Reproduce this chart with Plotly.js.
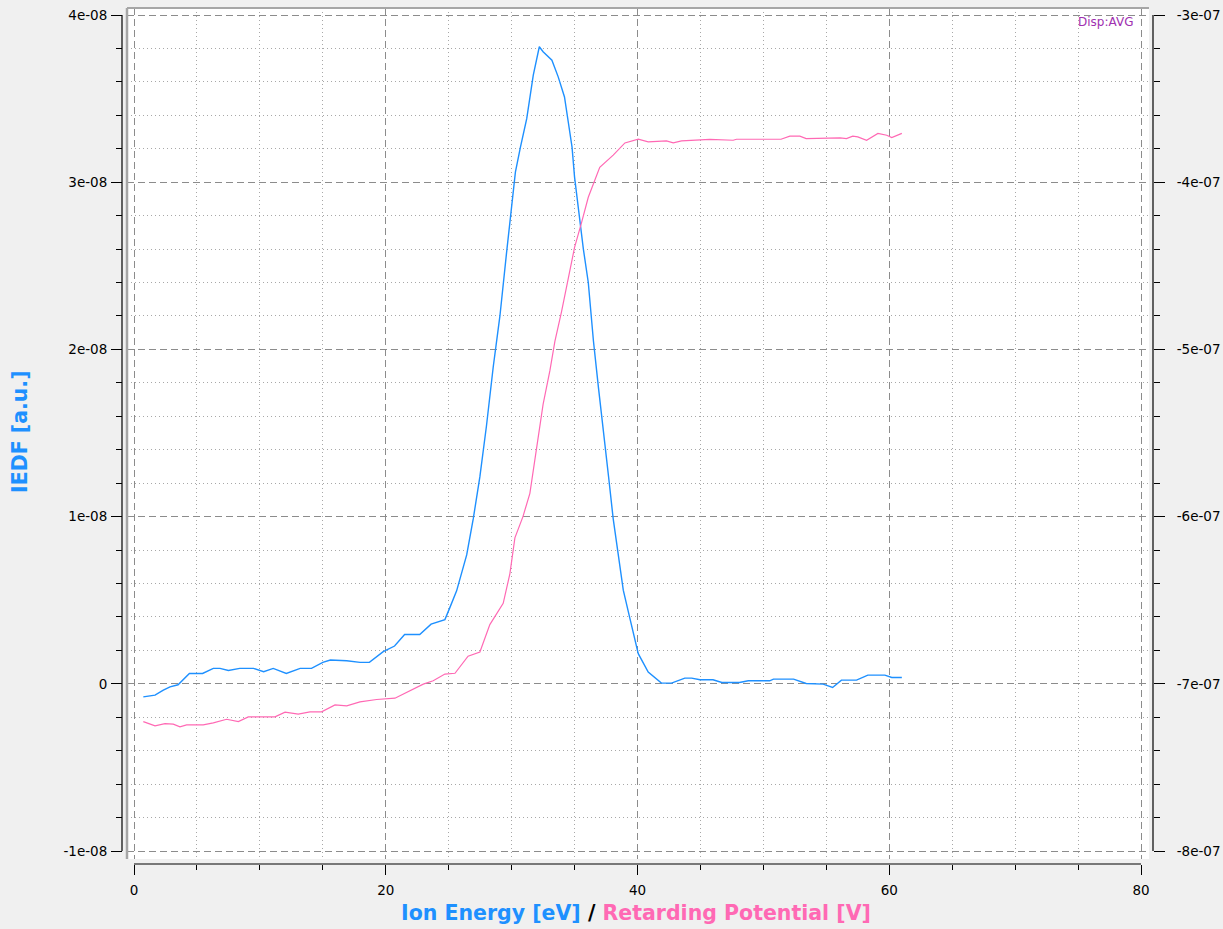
<!DOCTYPE html>
<html>
<head>
<meta charset="utf-8">
<script src="https://cdn.plot.ly/plotly-3.0.1.min.js"></script>
<style>
  html, body { margin: 0; padding: 0; background: #f0f0f0; }
  #plot { width: 1223px; height: 929px; }
</style>
</head>
<body>
<div id="plot"></div>
<script>
// Ion energy distribution function (left axis) against ion energy [eV]
const energy = [0.74, 1.67, 2.33, 2.86, 3.5, 4.4, 5.45, 6.3, 6.83, 7.5, 8.4, 9.5, 10.3, 11.06,
  12.1, 13.2, 14.1, 15.0, 15.6, 16.9, 17.95, 18.7, 19.8, 20.7, 21.5, 22.7, 23.6, 24.7, 25.1,
  25.63, 26.43, 26.95, 27.48, 28.0, 28.54, 29.07, 29.6, 30.0, 30.3, 30.7, 31.2, 31.72, 32.2,
  32.5, 33.2, 33.7, 34.2, 34.5, 34.8, 35.0, 35.3, 35.7, 36.09, 36.5, 36.9, 37.3, 37.7, 38.07,
  38.47, 38.87, 39.4, 40.06, 40.85, 41.9, 42.7, 43.76, 44.3, 44.96, 46.0, 46.7, 48.1, 48.8,
  50.5, 50.8, 52.4, 53.4, 54.75, 55.5, 56.2, 57.4, 58.3, 59.65, 60.2, 61.0];
const iedf = [-0.78e-9, -0.68e-9, -0.38e-9, -0.18e-9, -0.06e-9, 0.62e-9, 0.62e-9, 0.92e-9,
  0.92e-9, 0.8e-9, 0.92e-9, 0.92e-9, 0.72e-9, 0.92e-9, 0.62e-9, 0.92e-9, 0.92e-9, 1.28e-9,
  1.42e-9, 1.38e-9, 1.28e-9, 1.28e-9, 1.92e-9, 2.26e-9, 2.95e-9, 2.95e-9, 3.57e-9, 3.84e-9,
  4.57e-9, 5.56e-9, 7.71e-9, 9.86e-9, 12.39e-9, 15.42e-9, 18.96e-9, 22.0e-9, 25.8e-9, 28.6e-9,
  30.6e-9, 32.1e-9, 33.8e-9, 36.4e-9, 38.1e-9, 37.8e-9, 37.3e-9, 36.3e-9, 35.1e-9, 33.6e-9,
  32.1e-9, 30.3e-9, 28.3e-9, 26.0e-9, 24.0e-9, 20.5e-9, 17.7e-9, 15.2e-9, 12.4e-9, 9.86e-9,
  7.6e-9, 5.6e-9, 3.9e-9, 1.8e-9, 0.7e-9, 0.04e-9, 0.04e-9, 0.34e-9, 0.34e-9, 0.24e-9,
  0.24e-9, 0.08e-9, 0.08e-9, 0.18e-9, 0.18e-9, 0.28e-9, 0.28e-9, 0.02e-9, -0.02e-9, -0.22e-9,
  0.22e-9, 0.22e-9, 0.52e-9, 0.52e-9, 0.38e-9, 0.38e-9];

// Collector signal (right axis) against retarding potential [V]
const potential = [0.74, 1.67, 2.46, 3.12, 3.65, 4.18, 5.5, 6.3, 7.36, 8.29, 9.08, 11.2, 12.0,
  13.05, 13.98, 14.9, 15.97, 16.9, 17.95, 19.28, 20.73, 21.92, 22.98, 23.77, 24.7, 25.5, 26.54,
  27.48, 28.27, 29.33, 29.86, 30.26, 30.9, 31.45, 31.98, 32.5, 33.04, 33.44, 33.97, 34.5, 35.0,
  35.56, 36.09, 37.0, 38.07, 39.0, 40.06, 40.85, 42.3, 42.84, 43.5, 45.75, 47.6, 47.87, 51.4,
  52.1, 52.9, 53.4, 56.1, 56.6, 57.1, 57.5, 58.2, 59.1, 59.8, 60.2, 61.0];
const signal = [-7.226e-7, -7.251e-7, -7.238e-7, -7.241e-7, -7.257e-7, -7.246e-7, -7.246e-7,
  -7.234e-7, -7.212e-7, -7.226e-7, -7.198e-7, -7.198e-7, -7.170e-7, -7.181e-7, -7.168e-7,
  -7.168e-7, -7.126e-7, -7.132e-7, -7.108e-7, -7.094e-7, -7.086e-7, -7.042e-7, -7.002e-7,
  -6.982e-7, -6.942e-7, -6.937e-7, -6.835e-7, -6.81e-7, -6.646e-7, -6.519e-7, -6.342e-7,
  -6.127e-7, -6.0e-7, -5.861e-7, -5.582e-7, -5.329e-7, -5.127e-7, -4.95e-7, -4.772e-7,
  -4.57e-7, -4.39e-7, -4.24e-7, -4.09e-7, -3.911e-7, -3.838e-7, -3.765e-7, -3.743e-7,
  -3.759e-7, -3.753e-7, -3.765e-7, -3.753e-7, -3.744e-7, -3.749e-7, -3.743e-7, -3.743e-7,
  -3.725e-7, -3.725e-7, -3.739e-7, -3.735e-7, -3.739e-7, -3.725e-7, -3.729e-7, -3.749e-7,
  -3.708e-7, -3.719e-7, -3.733e-7, -3.708e-7];

// Axis ticks and labels
const xTicks = [0, 20, 40, 60, 80];
const xTickText = ['0', '20', '40', '60', '80'];
const yTicks = [-1e-8, 0, 1e-8, 2e-8, 3e-8, 4e-8];
const yTickText = ['-1e-08', '0', '1e-08', '2e-08', '3e-08', '4e-08'];
const y2Ticks = [-8e-7, -7e-7, -6e-7, -5e-7, -4e-7, -3e-7];
const y2TickText = ['-8e-07', '-7e-07', '-6e-07', '-5e-07', '-4e-07', '-3e-07'];

// minor ticks: evenly split each major interval
function subdivide(ticks, parts) {
  const out = [];
  for (let i = 0; i < ticks.length - 1; i++) {
    const a = ticks[i], b = ticks[i + 1];
    for (let k = 1; k < parts; k++) out.push(a + (b - a) * k / parts);
  }
  return out;
}

// page geometry (pixels)
const W = 1223, H = 929;
const fx = p => p / W;
const fy = p => (H - p) / H;
const canvas = { left: 127, right: 1149, top: 8, bottom: 859 };
const scaleX = { p0: 134, p1: 1141 };   // pixel span of the x scale ends
const scaleY = { p0: 851, p1: 15 };     // pixel span of the y scale ends (bottom, top)

function extend(lo, hi, p0, p1, c0, c1) {
  // value range covering canvas pixels c0..c1 when lo..hi maps to p0..p1
  const k = (hi - lo) / (p1 - p0);
  return [lo + (c0 - p0) * k, lo + (c1 - p0) * k];
}
const xRange = extend(xTicks[0], xTicks[xTicks.length - 1], scaleX.p0, scaleX.p1, canvas.left, canvas.right);
const yRange = extend(yTicks[0], yTicks[yTicks.length - 1], scaleY.p0, scaleY.p1, canvas.bottom, canvas.top);
const y2Range = extend(y2Ticks[0], y2Ticks[y2Ticks.length - 1], scaleY.p0, scaleY.p1, canvas.bottom, canvas.top);

const blue = '#1e90ff', pink = '#ff69b4';
const tickFont = { family: 'DejaVu Sans', size: 13.5, color: '#000' };
const majorGrid = '#8c8c8c', minorGrid = '#a8a8a8';

const traces = [
  { x: energy, y: iedf, type: 'scatter', mode: 'lines', yaxis: 'y',
    line: { color: blue, width: 1.4 }, hoverinfo: 'x+y', showlegend: false },
  { x: potential, y: signal, type: 'scatter', mode: 'lines', yaxis: 'y2',
    line: { color: pink, width: 1.2 }, hoverinfo: 'x+y', showlegend: false }
];

const layout = {
  width: W, height: H,
  margin: { l: 0, r: 0, t: 0, b: 0, pad: 0 },
  paper_bgcolor: '#f0f0f0',
  plot_bgcolor: '#ffffff',
  showlegend: false,
  xaxis: {
    domain: [fx(canvas.left), fx(canvas.right)],
    range: xRange, anchor: 'free', position: fy(864),
    tickmode: 'array', tickvals: xTicks, ticktext: xTickText,
    ticks: 'outside', ticklen: 10, tickwidth: 1, tickcolor: '#000',
    tickfont: tickFont, ticklabelstandoff: 4,
    showline: false, zeroline: false,
    showgrid: true, gridcolor: majorGrid, gridwidth: 1, griddash: '7px,4px',
    minor: { tickmode: 'array', tickvals: subdivide(xTicks, 4), ticks: 'outside', ticklen: 5,
             tickcolor: '#000', showgrid: true, gridcolor: minorGrid, gridwidth: 1, griddash: '1px,3px' }
  },
  yaxis: {
    domain: [fy(canvas.bottom), fy(canvas.top)],
    range: yRange, anchor: 'free', position: fx(122), side: 'left',
    tickmode: 'array', tickvals: yTicks, ticktext: yTickText,
    ticks: 'outside', ticklen: 11, tickwidth: 1, tickcolor: '#000',
    tickfont: tickFont, ticklabelstandoff: 1,
    showline: false, zeroline: false,
    showgrid: true, gridcolor: majorGrid, gridwidth: 1, griddash: '7px,4px',
    minor: { tickmode: 'array', tickvals: subdivide(yTicks, 5), ticks: 'outside', ticklen: 6,
             tickcolor: '#000', showgrid: true, gridcolor: minorGrid, gridwidth: 1, griddash: '1px,3px' }
  },
  yaxis2: {
    overlaying: 'y', side: 'right', anchor: 'free', position: fx(1153),
    range: y2Range,
    tickmode: 'array', tickvals: y2Ticks, ticktext: y2TickText,
    ticks: 'outside', ticklen: 11, tickwidth: 1, tickcolor: '#000',
    tickfont: tickFont, ticklabelstandoff: 9,
    showline: false, zeroline: false, showgrid: false,
    minor: { tickmode: 'array', tickvals: subdivide(y2Ticks, 5), ticks: 'outside', ticklen: 6,
             tickcolor: '#000', showgrid: false }
  },
  shapes: [
    // scale backbones spanning the labelled ranges
    { type: 'line', xref: 'paper', yref: 'y', x0: fx(122), x1: fx(122),
      y0: yTicks[0], y1: yTicks[yTicks.length - 1], line: { color: '#000', width: 1.2 } },
    { type: 'line', xref: 'paper', yref: 'y2', x0: fx(1153), x1: fx(1153),
      y0: y2Ticks[0], y1: y2Ticks[y2Ticks.length - 1], line: { color: '#000', width: 1.2 } },
    { type: 'line', xref: 'x', yref: 'paper', x0: xTicks[0], x1: xTicks[xTicks.length - 1],
      y0: fy(864), y1: fy(864), line: { color: '#000', width: 1.2 } },
    // sunken canvas frame (top and left edges)
    { type: 'line', xref: 'paper', yref: 'paper', x0: fx(canvas.left), x1: fx(canvas.right),
      y0: fy(canvas.top), y1: fy(canvas.top), line: { color: '#a6a6a6', width: 2 } },
    { type: 'line', xref: 'paper', yref: 'paper', x0: fx(canvas.left), x1: fx(canvas.left),
      y0: fy(canvas.top), y1: fy(canvas.bottom), line: { color: '#a6a6a6', width: 2.5 } }
  ],
  annotations: [
    { text: 'IEDF [a.u.]', xref: 'paper', yref: 'paper', x: fx(20), y: fy(432),
      xanchor: 'center', yanchor: 'middle', textangle: -90, showarrow: false,
      font: { family: 'DejaVu Sans', size: 20.5, color: blue, weight: 'bold' } },
    { text: '<span style="color:' + blue + '">Ion Energy [eV]</span> / <span style="color:' + pink + '">Retarding Potential [V]</span>',
      xref: 'paper', yref: 'paper', x: fx(636), y: fy(913),
      xanchor: 'center', yanchor: 'middle', showarrow: false,
      font: { family: 'DejaVu Sans', size: 20.5, color: '#000', weight: 'bold' } },
    { text: 'Disp:AVG', xref: 'paper', yref: 'paper', x: fx(1135), y: fy(22),
      xanchor: 'right', yanchor: 'middle', showarrow: false,
      font: { family: 'DejaVu Sans', size: 12, color: '#a030b0' } }
  ]
};

Plotly.newPlot('plot', traces, layout, { displayModeBar: false, staticPlot: true });
</script>
</body>
</html>
